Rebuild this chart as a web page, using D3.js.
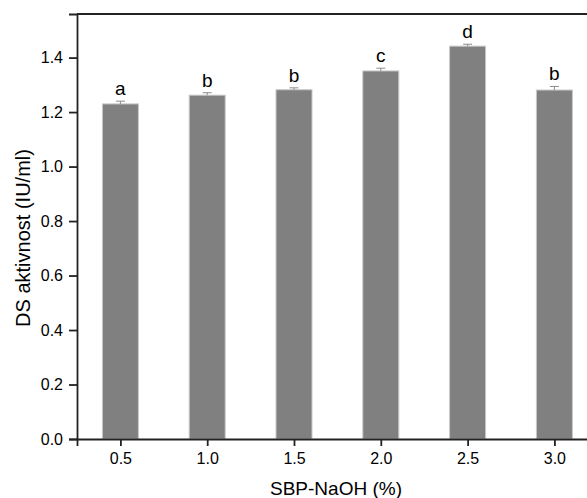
<!DOCTYPE html>
<html>
<head>
<meta charset="utf-8">
<script src="https://cdn.jsdelivr.net/npm/d3@7"></script>
<style>
  body { margin: 0; background: #fff; }
  text { font-family: "Liberation Sans", Arial, sans-serif; fill: #000; }
</style>
</head>
<body>
<svg id="plot" width="587" height="498"></svg>
<script>
var concentrations = [0.5, 1.0, 1.5, 2.0, 2.5, 3.0]
var activity = [1.23, 1.262, 1.282, 1.351, 1.442, 1.281]
var errors = [0.01, 0.009, 0.007, 0.01, 0.007, 0.013]
var groups = ["a", "b", "b", "c", "d", "b"]
var yTicks = [0.0, 0.2, 0.4, 0.6, 0.8, 1.0, 1.2, 1.4]

var plotLeft = 77, plotTop = 14, plotBottom = 439
var svg = d3.select("svg#plot")

var x = d3.scaleLinear().domain([0.25, 3.25]).range([plotLeft, plotLeft + 3 * 173.6])
var y = d3.scaleLinear().domain([0, 1.56]).range([plotBottom, plotTop])
var barW = 36

var plot = svg.append("g")

plot.selectAll("rect.bar")
    .data(concentrations)
    .enter().append("rect")
    .attr("class", "bar")
    .attr("x", d => x(d) - barW / 2)
    .attr("y", (d, i) => y(activity[i]))
    .attr("width", barW)
    .attr("height", (d, i) => plotBottom - y(activity[i]))
    .attr("fill", "#808080")
    .attr("stroke", "#c8c8c8")
    .attr("stroke-width", 1)

// error bars (upper half only, like the original)
var err = plot.selectAll("g.err")
    .data(concentrations)
    .enter().append("g")
    .attr("class", "err")
    .attr("stroke", "#8a8a8a")
    .attr("stroke-width", 1)
err.append("line")
    .attr("x1", d => x(d)).attr("x2", d => x(d))
    .attr("y1", (d, i) => y(activity[i]))
    .attr("y2", (d, i) => y(activity[i] + errors[i]))
err.append("line")
    .attr("x1", d => x(d) - 4.5).attr("x2", d => x(d) + 4.5)
    .attr("y1", (d, i) => y(activity[i] + errors[i]))
    .attr("y2", (d, i) => y(activity[i] + errors[i]))

plot.selectAll("text.grp")
    .data(concentrations)
    .enter().append("text")
    .attr("class", "grp")
    .attr("x", d => x(d))
    .attr("y", (d, i) => y(activity[i] + errors[i]) - 6)
    .attr("text-anchor", "middle")
    .style("font-size", "19px")
    .text((d, i) => groups[i])

// axes
svg.append("g")
    .attr("transform", "translate(0," + plotBottom + ")")
    .call(d3.axisBottom(x).tickValues(concentrations).tickFormat(d3.format(".1f")).tickSizeOuter(0).tickSize(7).tickPadding(7))
svg.append("g")
    .attr("transform", "translate(" + plotLeft + ",0)")
    .call(d3.axisLeft(y).tickValues(yTicks).tickFormat(d3.format(".1f")).tickSizeOuter(0).tickSize(8).tickPadding(6))

svg.selectAll(".domain, .tick line").attr("stroke", "#222").attr("stroke-width", 1.8)
svg.selectAll(".tick text")
    .style("font-size", "16px")
    .style("font-family", "'Liberation Sans', Arial, sans-serif")
    .attr("fill", "#111")

// top frame line
svg.append("line")
    .attr("x1", plotLeft).attr("x2", 587)
    .attr("y1", plotTop).attr("y2", plotTop)
    .attr("stroke", "#222").attr("stroke-width", 1.8)

svg.append("text")
    .attr("x", 336)
    .attr("y", 495)
    .attr("text-anchor", "middle")
    .style("font-size", "19px")
    .text("SBP-NaOH (%)")

svg.append("text")
    .attr("transform", "translate(30,238) rotate(-90)")
    .attr("text-anchor", "middle")
    .style("font-size", "20px")
    .text("DS aktivnost (IU/ml)")
</script>
</body>
</html>
